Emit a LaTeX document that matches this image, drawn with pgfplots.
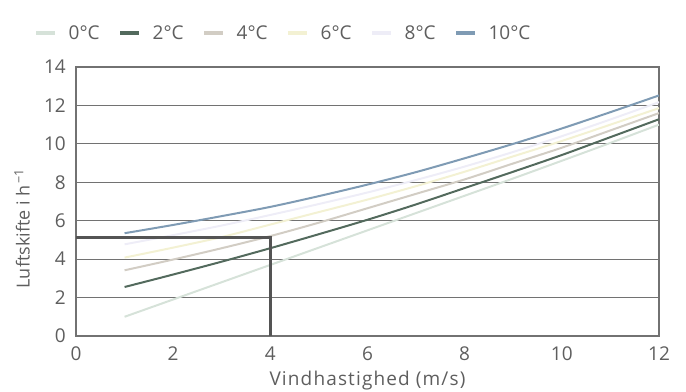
\documentclass[border=0pt]{standalone}
\usepackage{fontspec}
\setmainfont{Open Sans}
\newfontfamily\spaced[LetterSpace=6]{Open Sans}
\usepackage{pgfplots}
\pgfplotsset{compat=1.18}
\definecolor{cA}{HTML}{D6E2D9}
\definecolor{cB}{HTML}{536A5D}
\definecolor{cC}{HTML}{D2CDC4}
\definecolor{cD}{HTML}{F3F1D3}
\definecolor{cE}{HTML}{EEEDF7}
\definecolor{cF}{HTML}{7F9BB4}
\definecolor{gridc}{HTML}{727272}
\definecolor{txt}{HTML}{5E5E5E}
\begin{document}
\begin{tikzpicture}
\useasboundingbox (-76bp,-56bp) rectangle (610bp,336bp);
\begin{axis}[
  scale only axis,
  width=583bp, height=269bp,
  at={(0,0)}, anchor=south west,
  xmin=0, xmax=12, ymin=0, ymax=14,
  xtick={0,2,...,12}, ytick={0,2,...,14},
  major tick length=0pt,
  ymajorgrids,
  grid style={gridc, line width=1.1bp},
  axis line style={gridc, line width=1.1bp},
  /pgf/number format/assume math mode=true,
  font=\fontsize{19bp}{22bp}\selectfont\color{txt},
  xticklabel style={anchor=center, yshift=-18bp, inner sep=0pt},
  yticklabel style={anchor=east, xshift=-10bp, inner sep=0pt},
  xlabel={\spaced Vindhastighed (m/s)},
  ylabel={\fontsize{18bp}{21bp}\selectfont Luftskifte i h\textsuperscript{\,−1}},
  xlabel style={at={(axis description cs:0.5,-0.167)}, anchor=center, inner sep=0pt},
  ylabel style={at={(axis description cs:-0.0926,0.40)}, anchor=center, rotate=0, inner sep=0pt},
  legend columns=6,
  legend style={draw=none, fill=none, inner sep=0pt, at={(axis description cs:0,1)}, anchor=west, xshift=-42bp, yshift=34bp, font=\fontsize{19bp}{22bp}\selectfont\color{txt}, nodes={inner sep=0pt}},
  /tikz/every odd column/.append style={column sep=11bp},
  /tikz/every even column/.append style={column sep=18.5bp},
  legend image code/.code={\draw[line width=4.5bp] (0bp,0bp) -- (19bp,0bp);},
  every axis plot/.append style={line width=2bp, smooth},
]
\addplot[cA] coordinates {(1,1.0) (2,1.9) (3,2.8) (4,3.7) (5,4.6) (6,5.5) (7,6.4) (8,7.3) (9,8.2) (10,9.12) (11,10.05) (12,11.0)};
\addlegendentry{0°C}
\addplot[cB] coordinates {(1,2.55) (2,3.2) (3,3.87) (4,4.57) (5,5.3) (6,6.05) (7,6.85) (8,7.7) (9,8.55) (10,9.42) (11,10.35) (12,11.28)};
\addlegendentry{2°C}
\addplot[cC] coordinates {(1,3.42) (2,3.98) (3,4.57) (4,5.2) (5,5.9) (6,6.65) (7,7.4) (8,8.15) (9,8.98) (10,9.8) (11,10.7) (12,11.6)};
\addlegendentry{4°C}
\addplot[cD] coordinates {(1,4.08) (2,4.6) (3,5.15) (4,5.8) (5,6.45) (6,7.1) (7,7.8) (8,8.55) (9,9.35) (10,10.15) (11,11.0) (12,11.86)};
\addlegendentry{6°C}
\addplot[cE] coordinates {(1,4.77) (2,5.25) (3,5.75) (4,6.3) (5,6.87) (6,7.47) (7,8.12) (8,8.82) (9,9.58) (10,10.4) (11,11.27) (12,12.17)};
\addlegendentry{8°C}
\addplot[cF] coordinates {(1,5.35) (2,5.78) (3,6.24) (4,6.72) (5,7.28) (6,7.88) (7,8.53) (8,9.25) (9,10.0) (10,10.8) (11,11.65) (12,12.52)};
\addlegendentry{10°C}
\addplot[black!67, line width=2.6bp, sharp plot, forget plot] coordinates {(0,5.12) (4,5.12) (4,0)};
\end{axis}
\end{tikzpicture}
\end{document}
